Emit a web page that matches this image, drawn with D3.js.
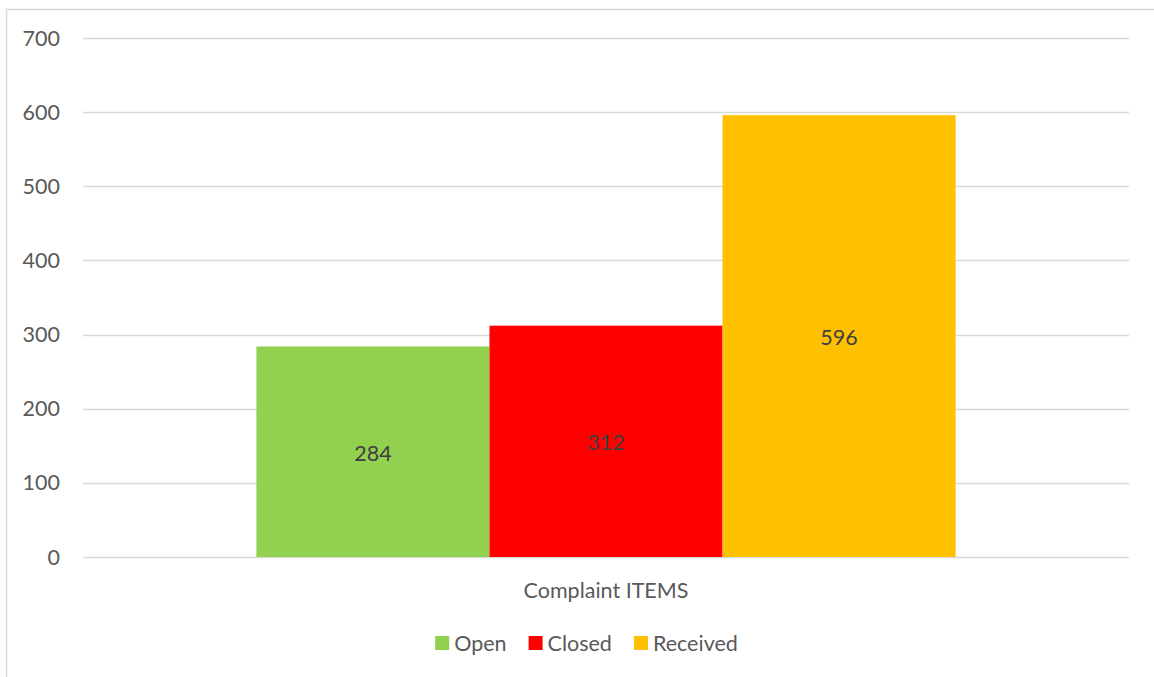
<!DOCTYPE html>
<html>
<head>
<meta charset="utf-8">
<script src="https://cdn.jsdelivr.net/npm/d3@7"></script>
<style>
  body { margin: 0; background: #fff; }
  text { font-family: Lato, "Open Sans", sans-serif; }
</style>
</head>
<body>
<div id="chart"></div>
<script>
// 1: DATA
const categories = ["Complaint ITEMS"];
const seriesNames = ["Open", "Closed", "Received"];
const seriesValues = [284, 312, 596];
const seriesColors = ["#92D050", "#FF0000", "#FFC000"];
const yTicks = [0, 100, 200, 300, 400, 500, 600, 700];

// 2: SIZES
const W = 1154, H = 677;
const plot = { left: 83, right: 1129, top: 38, bottom: 557 };
const fontSize = "21.5px";

const svg = d3.select("#chart")
    .append("svg")
    .attr("width", W)
    .attr("height", H);

// chart frame (runs off the right / bottom edge)
svg.append("rect")
    .attr("x", 6.5)
    .attr("y", 9.5)
    .attr("width", W + 20)
    .attr("height", H + 20)
    .attr("fill", "#fff")
    .attr("stroke", "#d9d9d9")
    .attr("stroke-width", 1.5);

// 3: SCALES
const yScale = d3.scaleLinear()
    .domain([0, 700])
    .range([plot.bottom, plot.top]);

const xScale = d3.scaleBand()
    .domain(categories)
    .range([plot.left, plot.right])
    .paddingInner(0)
    .paddingOuter(0.248);

const xSeries = d3.scaleBand()
    .domain(seriesNames)
    .range([0, xScale.bandwidth()])
    .padding(0);

// 4: GRIDLINES + Y AXIS
svg.append("g")
    .selectAll("line")
    .data(yTicks)
    .join("line")
    .attr("x1", plot.left)
    .attr("x2", plot.right)
    .attr("y1", d => Math.round(yScale(d)) + 0.5)
    .attr("y2", d => Math.round(yScale(d)) + 0.5)
    .attr("stroke", "#d9d9d9")
    .attr("stroke-width", 1.5);

svg.append("g")
    .selectAll("text")
    .data(yTicks)
    .join("text")
    .attr("x", 60)
    .attr("y", d => yScale(d))
    .attr("dy", "0.35em")
    .attr("text-anchor", "end")
    .attr("fill", "#595959")
    .style("font-size", fontSize)
    .text(d => d);

// 5: BARS
const barG = svg.append("g")
    .attr("transform", `translate(${xScale(categories[0])},0)`);

barG.selectAll("rect")
    .data(seriesNames)
    .join("rect")
    .attr("x", d => xSeries(d))
    .attr("width", xSeries.bandwidth())
    .attr("y", (d, i) => yScale(seriesValues[i]))
    .attr("height", (d, i) => yScale(0) - yScale(seriesValues[i]))
    .attr("fill", (d, i) => seriesColors[i]);

// value labels, centred in each bar
barG.selectAll("text")
    .data(seriesNames)
    .join("text")
    .attr("x", d => xSeries(d) + xSeries.bandwidth() / 2)
    .attr("y", (d, i) => (yScale(seriesValues[i]) + yScale(0)) / 2 + 1.5)
    .attr("dy", "0.35em")
    .attr("text-anchor", "middle")
    .attr("fill", "#404040")
    .style("font-size", fontSize)
    .text((d, i) => seriesValues[i]);

// 6: CATEGORY LABEL
svg.append("text")
    .attr("x", xScale(categories[0]) + xScale.bandwidth() / 2)
    .attr("y", 590)
    .attr("dy", "0.35em")
    .attr("text-anchor", "middle")
    .attr("fill", "#595959")
    .style("font-size", fontSize)
    .text(categories[0]);

// 7: LEGEND
const legend = svg.append("g");
const items = legend.selectAll("g")
    .data(seriesNames)
    .join("g");

items.append("rect")
    .attr("width", 14)
    .attr("height", 14)
    .attr("y", 636)
    .attr("fill", (d, i) => seriesColors[i]);

items.append("text")
    .attr("x", 19)
    .attr("y", 643)
    .attr("dy", "0.35em")
    .attr("fill", "#595959")
    .style("font-size", fontSize)
    .text(d => d);

// lay out items side by side, then centre the whole legend
let cursor = 0;
items.each(function () {
    const w = 19 + d3.select(this).select("text").node().getComputedTextLength();
    d3.select(this).attr("transform", `translate(${cursor},0)`);
    cursor += w + 22;
});
const legendWidth = cursor - 22;
legend.attr("transform", `translate(${586.5 - legendWidth / 2},0)`);
</script>
</body>
</html>
